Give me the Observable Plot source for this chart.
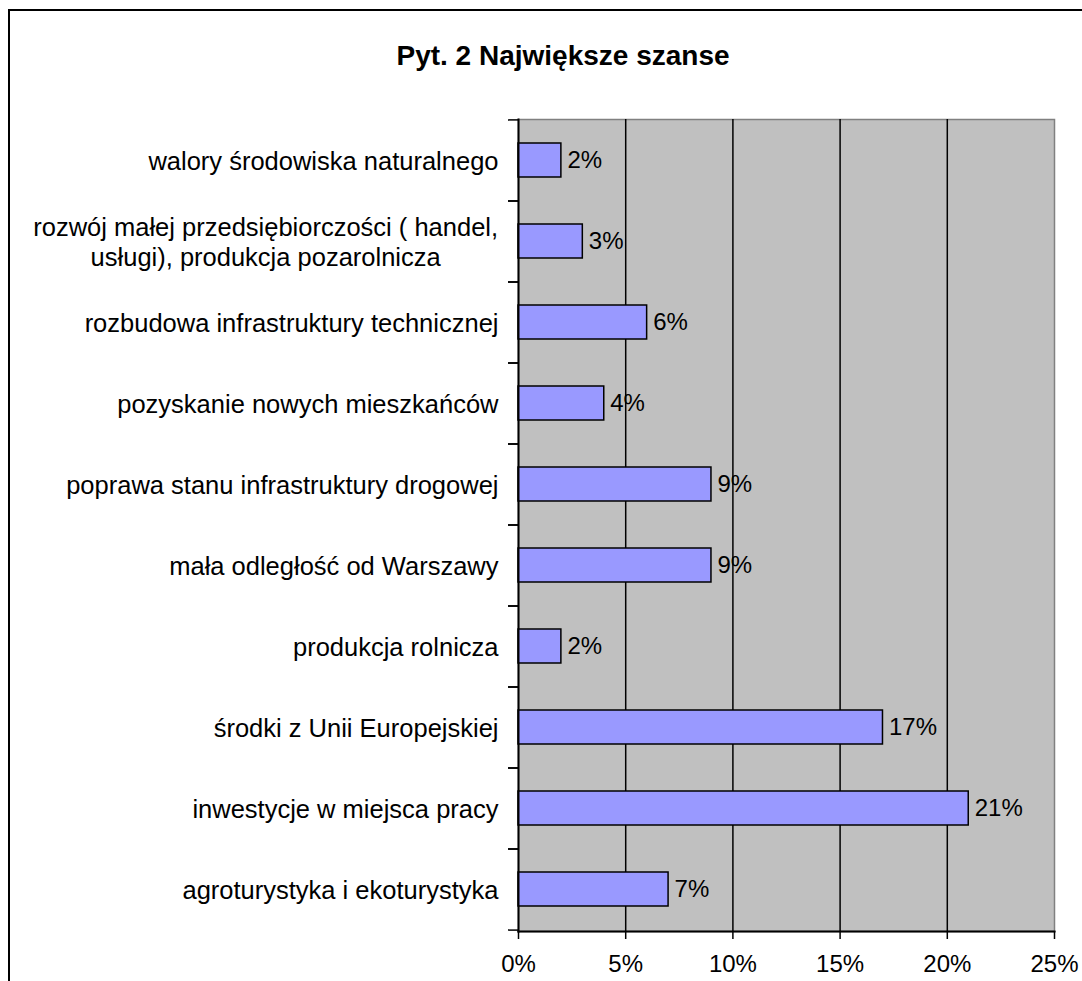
<!DOCTYPE html>
<html>
<head>
<meta charset="utf-8">
<script src="https://cdn.jsdelivr.net/npm/d3@7"></script>
<script src="https://cdn.jsdelivr.net/npm/@observablehq/plot@0.6"></script>
<style>
  html, body { margin: 0; padding: 0; background: #fff; overflow: hidden; }
  #wrap { position: relative; width: 1082px; height: 981px; }
  #border { position: absolute; left: 8px; top: 9px; width: 1100px; height: 1100px; border: 2px solid #000; }
  #title { position: absolute; left: 22px; width: 1082px; top: 40px; text-align: center; line-height: 32px;
           font-family: "Liberation Sans", Arial, sans-serif; font-weight: bold; font-size: 28px; }
  #chart { position: absolute; left: 0; top: 0; }
</style>
</head>
<body>
<div id="wrap">
  <div id="border"></div>
  <div id="title">Pyt. 2 Największe szanse</div>
  <div id="chart"></div>
</div>
<script>
const categories = [
  "walory środowiska naturalnego",
  "rozwój małej przedsiębiorczości ( handel,\nusługi), produkcja pozarolnicza",
  "rozbudowa infrastruktury technicznej",
  "pozyskanie nowych mieszkańców",
  "poprawa stanu infrastruktury drogowej",
  "mała odległość od Warszawy",
  "produkcja rolnicza",
  "środki z Unii Europejskiej",
  "inwestycje w miejsca pracy",
  "agroturystyka i ekoturystyka"
];
const values = [2, 3, 6, 4, 9, 9, 2, 17, 21, 7];
const xTicks = [0, 5, 10, 15, 20, 25];
const gridTicks = [5, 10, 15, 20];

const data = categories.map((c, i) => ({category: c, value: values[i]}));

const W = 1082, H = 981, mT = 119, mB = 50, mL = 518, mR = 28;
const step = (H - mT - mB) / categories.length;
const font = "Liberation Sans, Arial, sans-serif";

const chart = Plot.plot({
  width: W, height: H,
  marginTop: mT, marginBottom: mB, marginLeft: mL, marginRight: mR,
  style: {fontFamily: font, fontSize: "24px", color: "#000", background: "transparent"},
  x: {domain: [0, 25], label: null},
  y: {domain: categories, paddingInner: 0.58, paddingOuter: 0.29, label: null},
  marks: [
    Plot.frame({fill: "#c0c0c0", stroke: "#808080", strokeWidth: 1.5}),
    Plot.ruleX(gridTicks, {stroke: "#000", strokeWidth: 1.5}),
    Plot.barX(data, {y: "category", x: "value", fill: "#9999ff", stroke: "#000", strokeWidth: 1.5}),
    Plot.text(data, {y: "category", x: "value", text: d => d.value + "%", textAnchor: "start", dx: 6, fill: "#000", fontSize: 24}),
    Plot.frame({anchor: "left", stroke: "#000", strokeWidth: 2}),
    Plot.frame({anchor: "bottom", stroke: "#000", strokeWidth: 2}),
    Plot.axisX(xTicks, {tickSize: 8, tickPadding: 15, tickFormat: d => d + "%", fontSize: 24, strokeWidth: 1.5}),
    Plot.axisY({tickSize: 10, tickFormat: () => "", dy: -step / 2, strokeWidth: 1.5}),
    Plot.axisY({tickSize: 10, tickFormat: () => "", dy: step / 2, strokeWidth: 1.5}),
    Plot.axisY({tickSize: 0, tickPadding: 20, fontSize: 25.5, lineHeight: 1.16})
  ]
});
document.getElementById("chart").appendChild(chart);

// center the lines of multi-line tick labels within their block (as in the original)
chart.querySelectorAll("text").forEach(t => {
  const spans = t.querySelectorAll("tspan");
  if (spans.length > 1) {
    const w = t.getBBox().width;
    t.setAttribute("text-anchor", "middle");
    spans.forEach(s => {
      const x0 = +(s.getAttribute("x") || 0);
      s.setAttribute("x", x0 - w / 2);
    });
  }
});
</script>
</body>
</html>
